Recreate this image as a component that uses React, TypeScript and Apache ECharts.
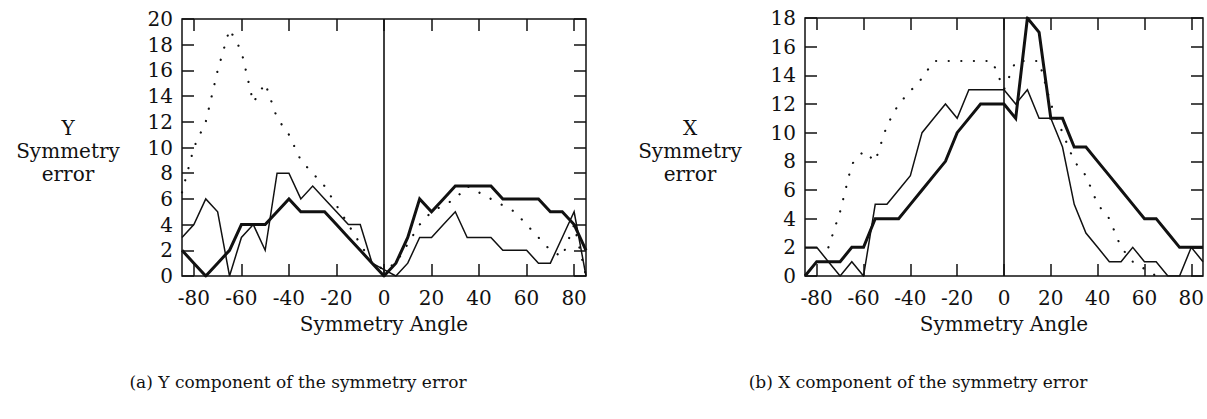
import { useEffect, useRef } from "react";
import * as echarts from "echarts";

// Symmetry angle sampled every 5 degrees
const angles = [
  -85, -80, -75, -70, -65, -60, -55, -50, -45, -40, -35, -30, -25, -20, -15, -10, -5,
  0, 5, 10, 15, 20, 25, 30, 35, 40, 45, 50, 55, 60, 65, 70, 75, 80, 85,
];
const angleTicks = [-80, -60, -40, -20, 0, 20, 40, 60, 80];

// (a) Y component of the symmetry error
const yThin = [
  3, 4, 6, 5, 0, 3, 4, 2, 8, 8, 6, 7, 6, 5, 4, 4, 1,
  0.5, 0, 1, 3, 3, 4, 5, 3, 3, 3, 2, 2, 2, 1, 1, 3, 5, 0,
];
const yThick = [
  2, 1, 0, 1, 2, 4, 4, 4, 5, 6, 5, 5, 5, 4, 3, 2, 1,
  0, 1, 3, 6, 5, 6, 7, 7, 7, 7, 6, 6, 6, 6, 5, 5, 4, 2,
];
const yDotted = [
  6.5, 10, 12, 16, 19.2, 17.5, 13.5, 15, 12.3, 11, 9, 8, 7, 5.5, 4, 2.5, 1,
  0.5, 1, 2.5, 4, 5, 5.5, 6, 7, 6.5, 6, 5.5, 5, 4, 3, 2, 1.5, 4, 0,
];

// (b) X component of the symmetry error
const xThin = [
  2, 2, 1, 0, 1, 0, 5, 5, 6, 7, 10, 11, 12, 11, 13, 13, 13,
  13, 12, 13, 11, 11, 9, 5, 3, 2, 1, 1, 2, 1, 1, 0, 0, 2, 1,
];
const xThick = [
  0, 1, 1, 1, 2, 2, 4, 4, 4, 5, 6, 7, 8, 10, 11, 12, 12,
  12, 11, 18, 17, 11, 11, 9, 9, 8, 7, 6, 5, 4, 4, 3, 2, 2, 2,
];
const xDotted = [
  null, null, 2, 4.5, 7.8, 8.7, 8, 10.5, 12, 12.9, 13.8, 15, 15, 15, 15, 15, 15,
  13, 15, 15, 15, 12, 10, 8, 7, 5, 4, 2, 1, 0.5, 0, null, null, null, null,
];

const FONT = "DejaVu Serif";
const INK = "#111";

const pairs = (vals: (number | null)[]) =>
  angles.map((a, i) => [a, vals[i]]).filter((p) => p[1] !== null);

const xAxisFor = (gridIndex: number, position: "top" | "bottom") => ({
  type: "value",
  gridIndex,
  position,
  min: -85,
  max: 85,
  axisLine: { show: false, onZero: false },
  splitLine: { show: false },
  axisTick: {
    show: true,
    inside: true,
    length: 12,
    customValues: angleTicks,
    lineStyle: { color: INK, width: 1.5 },
  },
  axisLabel: {
    show: position === "bottom",
    customValues: angleTicks,
    margin: 12,
    color: INK,
    fontFamily: FONT,
    fontSize: 20,
  },
  name: position === "bottom" ? "Symmetry Angle" : "",
  nameLocation: "middle",
  nameGap: 38,
  nameTextStyle: { color: INK, fontFamily: FONT, fontSize: 20 },
});

const yAxisFor = (gridIndex: number, position: "left" | "right", max: number) => ({
  type: "value",
  gridIndex,
  position,
  min: 0,
  max,
  interval: 2,
  axisLine: { show: false, onZero: false },
  splitLine: { show: false },
  axisTick: { show: true, inside: true, length: 12, lineStyle: { color: INK, width: 1.5 } },
  axisLabel: {
    show: position === "left",
    margin: 9,
    color: INK,
    fontFamily: FONT,
    fontSize: 20,
  },
});

const lineSeries = (
  axisIndex: number,
  vals: (number | null)[],
  kind: "thin" | "thick" | "dotted"
) => ({
  type: "line",
  xAxisIndex: axisIndex * 2,
  yAxisIndex: axisIndex * 2,
  data: pairs(vals),
  symbol: "none",
  silent: true,
  lineStyle:
    kind === "dotted"
      ? { color: INK, width: 2.2, type: [0.1, 12.5], cap: "round" }
      : { color: INK, width: kind === "thick" ? 3 : 1.5, join: "miter" },
});

const zeroLine = {
  silent: true,
  symbol: "none",
  label: { show: false },
  lineStyle: { type: "solid", color: INK, width: 1.6 },
  data: [{ xAxis: 0 }],
};

const textStyle = (text: string, size = 20) => ({
  text,
  fill: INK,
  font: `${size}px "${FONT}"`,
  textAlign: "center",
  textVerticalAlign: "middle",
});

export default function App() {
  const ref = useRef<HTMLDivElement>(null);

  useEffect(() => {
    if (!ref.current) return;
    const chart = echarts.init(ref.current, null, { renderer: "svg" });
    const thinA = lineSeries(0, yThin, "thin") as any;
    thinA.markLine = zeroLine;
    const thinB = lineSeries(1, xThin, "thin") as any;
    thinB.markLine = zeroLine;

    chart.setOption({
      animation: false,
      backgroundColor: "#fff",
      grid: [
        { left: 182, top: 19, width: 404, height: 257, show: true, borderColor: INK, borderWidth: 1.5 },
        { left: 805, top: 18, width: 398, height: 258, show: true, borderColor: INK, borderWidth: 1.5 },
      ],
      xAxis: [xAxisFor(0, "bottom"), xAxisFor(0, "top"), xAxisFor(1, "bottom"), xAxisFor(1, "top")],
      yAxis: [
        yAxisFor(0, "left", 20),
        yAxisFor(0, "right", 20),
        yAxisFor(1, "left", 18),
        yAxisFor(1, "right", 18),
      ],
      series: [
        thinA,
        lineSeries(0, yThick, "thick"),
        lineSeries(0, yDotted, "dotted"),
        thinB,
        lineSeries(1, xThick, "thick"),
        lineSeries(1, xDotted, "dotted"),
      ],
      graphic: [
        { type: "text", x: 68, y: 128, style: textStyle("Y") },
        { type: "text", x: 68, y: 151, style: textStyle("Symmetry") },
        { type: "text", x: 68, y: 174, style: textStyle("error") },
        { type: "text", x: 690, y: 128, style: textStyle("X") },
        { type: "text", x: 690, y: 151, style: textStyle("Symmetry") },
        { type: "text", x: 690, y: 174, style: textStyle("error") },
        { type: "text", x: 298, y: 382, style: textStyle("(a) Y component of the symmetry error", 17) },
        { type: "text", x: 918, y: 382, style: textStyle("(b) X component of the symmetry error", 17) },
      ],
    });
    return () => chart.dispose();
  }, []);

  return (
    <div
      ref={ref}
      style={{ position: "absolute", left: 0, top: 0, width: 1207, height: 419 }}
    />
  );
}
